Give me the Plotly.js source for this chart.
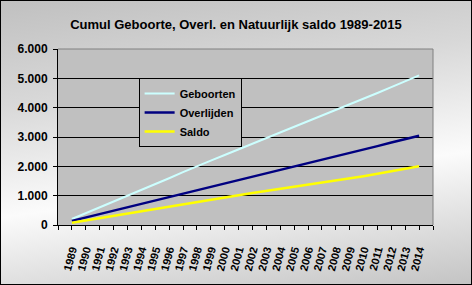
<!DOCTYPE html>
<html>
<head>
<meta charset="utf-8">
<script src="https://cdn.plot.ly/plotly-3.0.1.min.js"></script>
<style>
  html, body { margin: 0; padding: 0; }
  #chart {
    width: 470px; height: 283px;
    border: 1px solid #000;
    background: linear-gradient(172deg, #c0c0c0 0%, #d8d8d8 30%, #fbfbfb 62%, #c4c4c4 100%);
  }
</style>
</head>
<body>
<div id="chart"></div>
<script>
const years = [1989,1990,1991,1992,1993,1994,1995,1996,1997,1998,1999,2000,2001,2002,2003,2004,2005,2006,2007,2008,2009,2010,2011,2012,2013,2014];
const geboorten = [205,400,600,800,1000,1195,1395,1595,1800,2005,2195,2385,2575,2765,2955,3145,3340,3530,3720,3915,4110,4305,4500,4700,4900,5100];
const overlijden = [140,255,370,485,600,715,835,950,1070,1190,1305,1420,1535,1650,1765,1880,1995,2110,2225,2340,2460,2575,2690,2810,2925,3040];
const saldo = [75,155,230,310,390,470,545,625,705,780,860,935,1015,1090,1160,1230,1300,1365,1435,1505,1585,1665,1745,1830,1915,2000];
const seriesNames = ['Geboorten','Overlijden','Saldo'];
const titleText = 'Cumul Geboorte, Overl. en Natuurlijk saldo 1989-2015';

const font = 'Arial, "Liberation Sans", sans-serif';
const tickVals = [years[0]-1].concat(years, [years[years.length-1]+1]);
const tickText = [''].concat(years.map(String), ['']);

const traces = [
  {x: years, y: geboorten, name: seriesNames[0], mode: 'lines', line: {color: '#CCFFFF', width: 2}},
  {x: years, y: overlijden, name: seriesNames[1], mode: 'lines', line: {color: '#000080', width: 2.5}},
  {x: years, y: saldo, name: seriesNames[2], mode: 'lines', line: {color: '#FFFF00', width: 2.5}}
];

const layout = {
  width: 470, height: 283,
  margin: {l: 57, r: 38, t: 48, b: 59},
  paper_bgcolor: 'rgba(0,0,0,0)',
  plot_bgcolor: '#C0C0C0',
  separators: ',.',
  font: {family: font, color: '#000', size: 11},
  title: {text: '<b>' + titleText + '</b>', x: 0.5, xanchor: 'center', y: 0.918, yanchor: 'middle',
          font: {family: font, size: 13, color: '#000'}},
  showlegend: true,
  legend: {x: 0.215, y: 0.835, xanchor: 'left', yanchor: 'top', bgcolor: '#C0C0C0',
           bordercolor: '#000', borderwidth: 1, font: {family: font, size: 11, color: '#000', weight: 'bold'},
           itemwidth: 30, tracegroupgap: 0},
  xaxis: {
    range: [years[0]-1, years[years.length-1]+1],
    tickmode: 'array', tickvals: tickVals, ticktext: tickText,
    tickangle: -75, ticks: 'outside', ticklen: 4, tickcolor: '#000', ticklabelstandoff: 9,
    showgrid: false, zeroline: false, showline: true, linecolor: '#000', linewidth: 1,
    tickfont: {family: font, size: 11, color: '#000', weight: 'bold'}, fixedrange: true
  },
  yaxis: {
    range: [0, 6000], dtick: 1000, tick0: 0, tickformat: ',d',
    ticks: 'outside', ticklen: 4, tickcolor: '#000', ticklabelstandoff: 3,
    showgrid: true, gridcolor: '#000', gridwidth: 1,
    zeroline: false, showline: true, linecolor: '#000', linewidth: 1,
    tickfont: {family: font, size: 12, color: '#000', weight: 'bold'}, fixedrange: true
  },
  shapes: [
    {type: 'line', xref: 'paper', yref: 'paper', x0: 0, x1: 1, y0: 1, y1: 1, line: {color: '#808080', width: 1}, layer: 'above'},
    {type: 'line', xref: 'paper', yref: 'paper', x0: 1, x1: 1, y0: 0, y1: 1, line: {color: '#808080', width: 1}, layer: 'above'}
  ]
};

Plotly.newPlot('chart', traces, layout, {displayModeBar: false, staticPlot: true});
</script>
</body>
</html>
